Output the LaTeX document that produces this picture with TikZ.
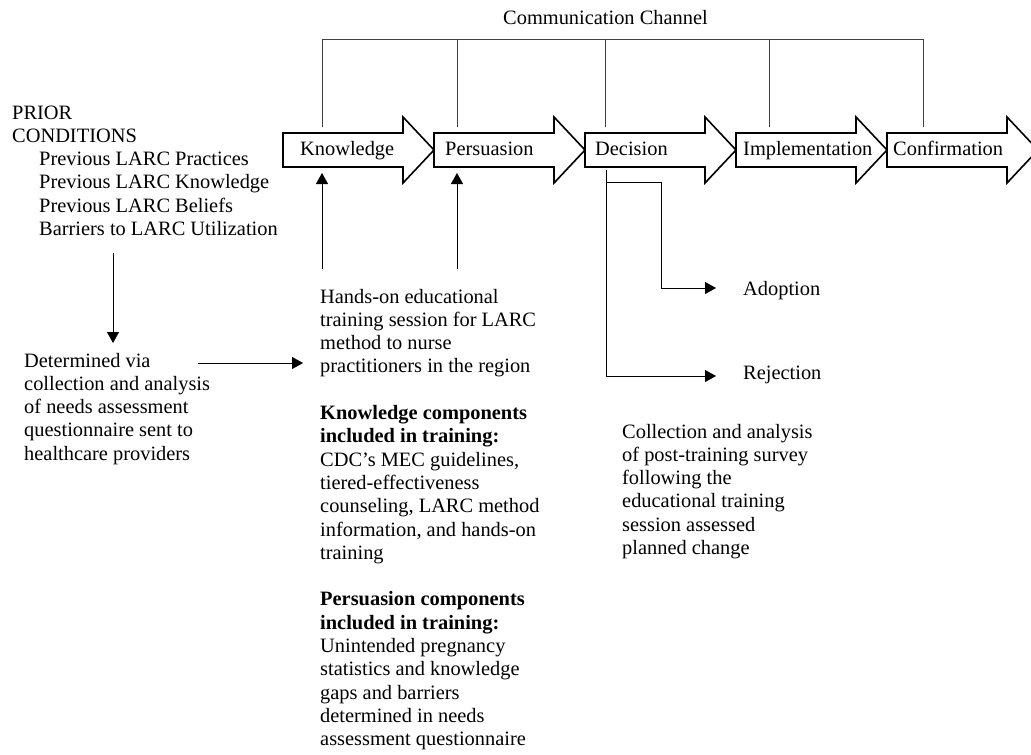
\documentclass[tikz,border=0pt]{standalone}
\usepackage{fontspec}
\setmainfont{Liberation Serif}
\usetikzlibrary{arrows.meta}
\begin{document}
\begin{tikzpicture}[x=1pt,y=-1pt]
\tikzset{
  stage/.style={draw, line width=1.6pt, fill=white, line join=miter},
  lbl/.style={anchor=base west, inner sep=0pt, font=\fontsize{20.4}{23.3}\selectfont},
  conn/.style={line width=0.9pt, draw=black},
  tipped/.style={conn, -{Triangle[length=11pt,width=12pt]}},
  chan/.style={line width=0.9pt, draw=black!75},
}
\clip (0,0) rectangle (1031,755);
\fill[white] (0,0) rectangle (1031,755);

% stage arrows
\foreach \L in {283,434,585,736,887}{
  \draw[stage] (\L,133) -- (\L+120,133) -- (\L+120,117) -- (\L+151,150)
     -- (\L+120,183) -- (\L+120,167) -- (\L,167) -- cycle;
}
\node[lbl] (knowledge) at (300,155) {Knowledge};
\node[lbl] (persuasion) at (445,155) {Persuasion};
\node[lbl] (decision) at (595,155) {Decision};
\node[lbl] (implementation) at (743,155) {Implementation};
\node[lbl] (confirmation) at (893,155) {Confirmation};

% communication channel
\node[lbl] (channel) at (503,24) {Communication Channel};
\coordinate (c1) at (322,39);
\coordinate (c2) at (457,39);
\coordinate (c3) at (605,39);
\coordinate (c4) at (769,39);
\coordinate (c5) at (923,39);
\coordinate (k1) at (322,127);
\coordinate (k2) at (457,127);
\coordinate (k3) at (605,127);
\coordinate (k4) at (769,127);
\coordinate (k5) at (923,127);
\draw[chan] (k1) -- (c1) -- (c5) -- (k5);
\draw[chan] (c2) -- (k2);
\draw[chan] (c3) -- (k3);
\draw[chan] (c4) -- (k4);

% prior conditions
\node[lbl] (prior) at (12,119) {\parbox[t]{300pt}{\raggedright
PRIOR\\
CONDITIONS\\
\hspace*{27pt}Previous LARC Practices\\
\hspace*{27pt}Previous LARC Knowledge\\
\hspace*{27pt}Previous LARC Beliefs\\
\hspace*{27pt}Barriers to LARC Utilization}};

\node[lbl] (determined) at (24,367) {\parbox[t]{260pt}{\raggedright
Determined via\\
collection and analysis\\
of needs assessment\\
questionnaire sent to\\
healthcare providers}};

\node[lbl] (training) at (320,303) {\parbox[t]{280pt}{\raggedright
Hands-on educational\\
training session for LARC\\
method to nurse\\
practitioners in the region\\[23.3pt]
\textbf{Knowledge components}\\
\textbf{included in training:}\\
CDC’s MEC guidelines,\\
tiered-effectiveness\\
counseling, LARC method\\
information, and hands-on\\
training\\[23.3pt]
\textbf{Persuasion components}\\
\textbf{included in training:}\\
Unintended pregnancy\\
statistics and knowledge\\
gaps and barriers\\
determined in needs\\
assessment questionnaire}};

\node[lbl] (adoption) at (743,295) {Adoption};
\node[lbl] (rejection) at (743,379) {Rejection};

\node[lbl] (collection) at (622,438) {\parbox[t]{280pt}{\raggedright
Collection and analysis\\
of post-training survey\\
following the\\
educational training\\
session assessed\\
planned change}};

% connectors
\coordinate (pdown) at (113,253);
\coordinate (pend) at (113,343);
\draw[tipped] (pdown) -- (pend);
\coordinate (dstart) at (198,363);
\coordinate (dend) at (303,363);
\draw[tipped] (dstart) -- (dend);
\coordinate (tk) at (322,269);
\coordinate (tke) at (322,173);
\coordinate (tp) at (457,269);
\coordinate (tpe) at (457,173);
\draw[tipped] (tk) -- (tke);
\draw[tipped] (tp) -- (tpe);

\coordinate (dtop) at (606,170);
\coordinate (abr) at (606,182);
\coordinate (acorner) at (661,182);
\coordinate (aend) at (716,288);
\coordinate (rend) at (716,376);
\draw[tipped] (abr) -- (acorner) |- (aend);
\draw[tipped] (dtop) |- (rend);
\end{tikzpicture}
\end{document}
